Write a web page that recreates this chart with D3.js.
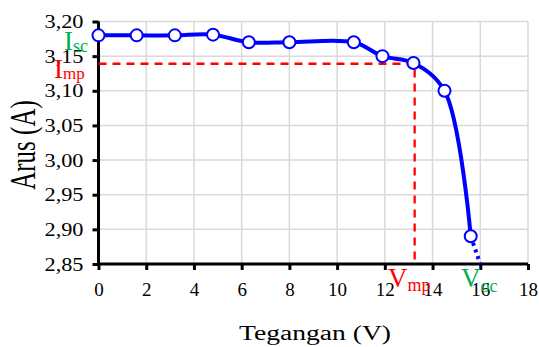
<!DOCTYPE html>
<html><head><meta charset="utf-8">
<script src="https://cdn.jsdelivr.net/npm/d3@7"></script>
<style>body{margin:0;background:#fff}svg{display:block}text{font-family:"Liberation Serif","Times New Roman",serif}</style>
</head><body><svg id="c" width="539" height="347"></svg>
<script>
const voltage = [0, 1.6, 3.2, 4.8, 6.3, 8.0, 10.7, 11.9, 13.2, 14.5, 15.6];
const current = [3.18, 3.18, 3.18, 3.181, 3.17, 3.17, 3.17, 3.15, 3.14, 3.10, 2.89];
const extrapV = [15.6, 16.0];
const extrapI = [2.89, 2.85];
const vmp = 13.25, imp = 3.139;
const xTicks = [0,2,4,6,8,10,12,14,16,18];
const yTicks = [2.85,2.90,2.95,3.00,3.05,3.10,3.15,3.20];

const svg = d3.select("#c");
const x = d3.scaleLinear().domain([0,18]).range([98.5,528]);
const y = d3.scaleLinear().domain([2.85,3.20]).range([264,21.5]);

// grid
svg.append("g").selectAll("line").data(xTicks.slice(1)).join("line")
  .attr("x1",d=>x(d)).attr("x2",d=>x(d)).attr("y1",y(2.85)).attr("y2",y(3.20))
  .attr("stroke","#d9d9d9").attr("stroke-width",1.5);
svg.append("g").selectAll("line").data(yTicks.slice(1)).join("line")
  .attr("x1",x(0)).attr("x2",x(18)).attr("y1",d=>y(d)).attr("y2",d=>y(d))
  .attr("stroke","#d9d9d9").attr("stroke-width",1.5);

// axes
const fmt = d3.format(".2f");
const ya = svg.append("g").attr("transform",`translate(${x(0)},0)`)
  .call(d3.axisLeft(y).tickValues(yTicks).tickSize(6).tickPadding(9).tickFormat(d=>fmt(d).replace(".",",")));
const xa = svg.append("g").attr("transform",`translate(0,${y(2.85)})`)
  .call(d3.axisBottom(x).tickValues(xTicks).tickSize(6).tickPadding(13));
[ya,xa].forEach(a=>{
  a.attr("font-family",null).attr("font-size",null);
  a.select(".domain").attr("stroke","#000").attr("stroke-width",3);
  a.selectAll(".tick line").attr("stroke","#000").attr("stroke-width",3);
  a.selectAll("text").style("font-size","19px").attr("fill","#000").style("font-family","Liberation Serif");
});
ya.selectAll("text").attr("textLength",39).attr("lengthAdjust","spacingAndGlyphs");
ya.select(".domain").attr("d",`M0,${y(2.85)+1.5}V${y(3.20)}`);
xa.select(".domain").attr("d",`M${x(0)-1.5},0H${x(18)}`);

// red dashed lines
svg.append("path").attr("d",`M${x(0)},${y(imp)}H${x(vmp)}V${y(2.85)}`)
  .attr("fill","none").attr("stroke","#ff0000").attr("stroke-width",2.3).attr("stroke-dasharray","8,6");

// curve
const pts = voltage.map((v,i)=>[v,current[i]]);
const line = d3.line().x(d=>x(d[0])).y(d=>y(d[1])).curve(d3.curveCatmullRom.alpha(0.5));
svg.append("path").datum(pts).attr("d",line).attr("fill","none").attr("stroke","#0000ff").attr("stroke-width",4);
svg.append("path").datum(extrapV.map((v,i)=>[v,extrapI[i]])).attr("d",d3.line().x(d=>x(d[0])).y(d=>y(d[1])))
  .attr("fill","none").attr("stroke","#0000ff").attr("stroke-width",4).attr("stroke-dasharray","3,4");
svg.append("g").selectAll("circle").data(pts).join("circle")
  .attr("cx",d=>x(d[0])).attr("cy",d=>y(d[1])).attr("r",6)
  .attr("fill","#fff").attr("stroke","#0000ff").attr("stroke-width",2);

// titles
svg.append("text").attr("transform","translate(315,340) scale(1.38,1)").attr("text-anchor","middle").style("font-size","20px").text("Tegangan (V)");
svg.append("text").attr("transform","translate(35,145) rotate(-90) scale(1,1.4)").attr("text-anchor","middle").style("font-size","25px").text("Arus (A)");

// annotation labels
function lab(xp,yp,main,sub,color,fs,sfs,dy){
  const t = svg.append("text").attr("x",xp).attr("y",yp).attr("fill",color).style("font-size",fs+"px");
  t.append("tspan").text(main);
  t.append("tspan").style("font-size",sfs+"px").attr("dy",dy).text(sub);
}
lab(64,50,"I","sc","#00b050",27,18,2);
lab(54,78,"I","mp","#ff0000",27,17,1);
lab(388,287,"V","mp","#ff0000",27,18,4);
lab(461,287,"V","oc","#00b050",27,18,5);
</script></body></html>
